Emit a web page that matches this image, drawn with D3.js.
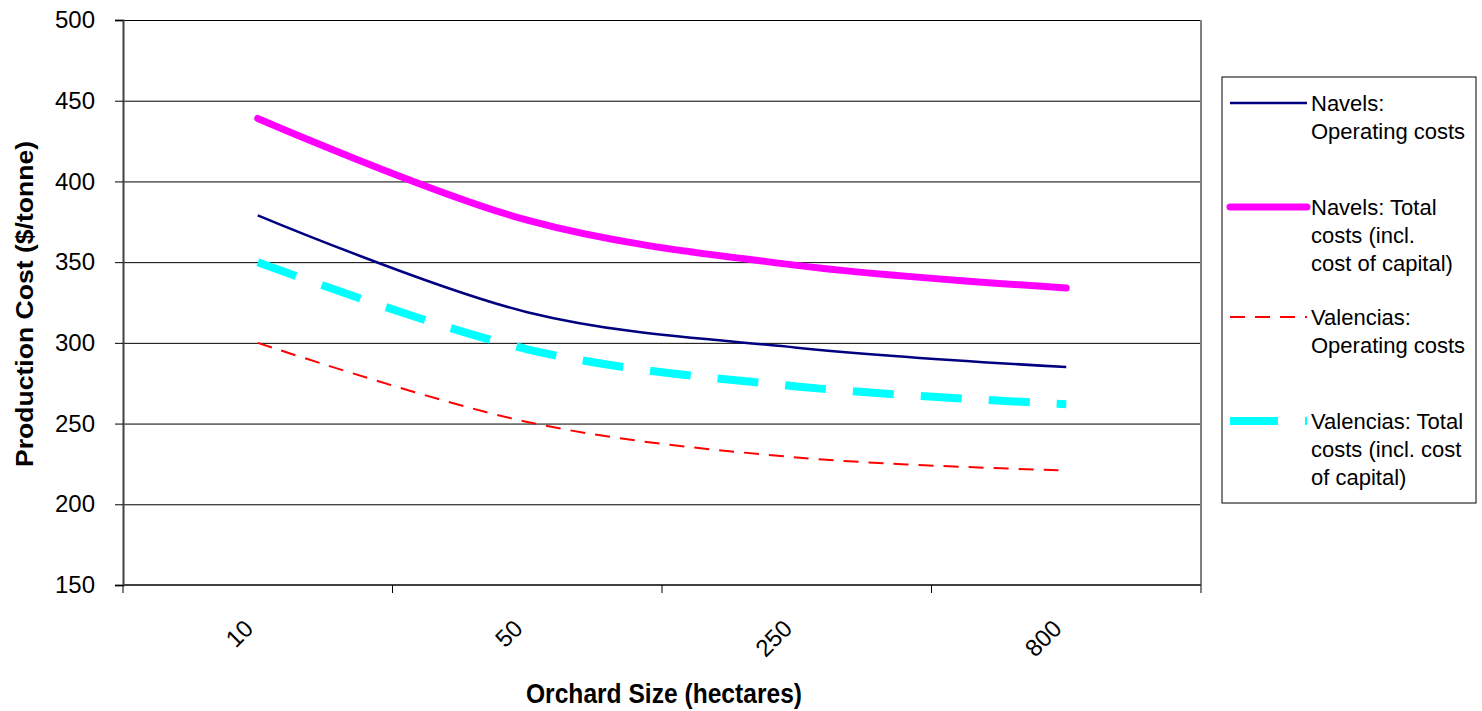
<!DOCTYPE html>
<html>
<head>
<meta charset="utf-8">
<script src="https://cdn.jsdelivr.net/npm/d3@7"></script>
<style>
  body { margin: 0; background: #fff; }
  svg text { font-family: "Liberation Sans", Arial, sans-serif; fill: #000; }
</style>
</head>
<body>
<div id="chart"></div>
<script>
// orchard sizes (hectares)
const sizes = ['10', '50', '250', '800'];

// production cost ($/tonne)
const navelsOperating = [379, 319, 297, 285];
const navelsTotal = [439, 376, 348, 334];
const valenciasOperating = [300, 251, 229, 221];
const valenciasTotal = [350, 296, 273, 262];

const yTicks = [150, 200, 250, 300, 350, 400, 450, 500];

const series = [
    { name: ['Navels:', 'Operating costs'], values: navelsOperating, color: '#000080', width: 2.5, dash: null, cap: 'butt' },
    { name: ['Navels: Total', 'costs (incl.', 'cost of capital)'], values: navelsTotal, color: '#ff00ff', width: 7, dash: null, cap: 'round' },
    { name: ['Valencias:', 'Operating costs'], values: valenciasOperating, color: '#ff0000', width: 2, dash: '15,10', cap: 'butt' },
    { name: ['Valencias: Total', 'costs (incl. cost', 'of capital)'], values: valenciasTotal, color: '#00ffff', width: 8, dash: '41,27', cap: 'butt' }
];

const svg = d3.select('#chart')
    .append('svg')
    .attr('width', 1482)
    .attr('height', 711);

const plot = { left: 123, right: 1201, top: 20, bottom: 585 };

const x = d3.scaleBand()
    .domain(sizes)
    .range([plot.left, plot.right])
    .paddingInner(0)
    .paddingOuter(0);

const y = d3.scaleLinear()
    .domain([150, 500])
    .range([plot.bottom, plot.top]);

// gridlines
svg.append('g')
    .attr('transform', 'translate(' + plot.left + ',0)')
    .call(d3.axisLeft(y).tickValues(yTicks).tickSize(-(plot.right - plot.left)).tickFormat(''))
    .call(g => g.select('.domain').remove())
    .selectAll('line')
    .attr('stroke', '#000')
    .attr('stroke-width', 1);

// plot border (right side)
svg.append('line')
    .attr('x1', plot.right).attr('x2', plot.right)
    .attr('y1', plot.top).attr('y2', plot.bottom)
    .attr('stroke', '#808080')
    .attr('stroke-width', 2);

// y axis
const yAxis = svg.append('g')
    .attr('transform', 'translate(' + plot.left + ',0)')
    .call(d3.axisLeft(y).tickValues(yTicks).tickSize(8).tickPadding(20));
yAxis.select('.domain').attr('stroke', '#404040').attr('stroke-width', 2);
yAxis.selectAll('.tick line').attr('stroke', '#000');
yAxis.selectAll('.tick text')
    .style('font-size', '24px');

// x axis
const xAxis = svg.append('g');
xAxis.append('line')
    .attr('x1', plot.left).attr('x2', plot.right)
    .attr('y1', plot.bottom).attr('y2', plot.bottom)
    .attr('stroke', '#404040')
    .attr('stroke-width', 2);
const bounds = sizes.map(d => x(d)).concat([x.range()[1]]);
xAxis.selectAll('.xtick')
    .data(bounds)
    .enter().append('line')
    .attr('class', 'xtick')
    .attr('x1', d => d).attr('x2', d => d)
    .attr('y1', plot.bottom).attr('y2', plot.bottom + 8)
    .attr('stroke', '#000');
xAxis.selectAll('.xlabel')
    .data(sizes)
    .enter().append('text')
    .attr('class', 'xlabel')
    .attr('transform', d => 'translate(' + (x(d) + x.bandwidth() / 2 - 9) + ',' + 624 + ') rotate(-45)')
    .attr('text-anchor', 'end')
    .attr('dy', '0.35em')
    .style('font-size', '24px')
    .text(d => d);

// axis titles
svg.append('text')
    .attr('transform', 'translate(33,' + 304 + ') rotate(-90)')
    .attr('text-anchor', 'middle')
    .attr('textLength', 326)
    .attr('lengthAdjust', 'spacingAndGlyphs')
    .style('font-size', '23px')
    .style('font-weight', 'bold')
    .text('Production Cost ($/tonne)');

svg.append('text')
    .attr('x', (plot.left + plot.right) / 2 + 2)
    .attr('y', 703)
    .attr('text-anchor', 'middle')
    .attr('textLength', 276)
    .attr('lengthAdjust', 'spacingAndGlyphs')
    .style('font-size', '27px')
    .style('font-weight', 'bold')
    .text('Orchard Size (hectares)');

// lines
const line = d3.line()
    .x((d, i) => x(sizes[i]) + x.bandwidth() / 2)
    .y(d => y(d))
    .curve(d3.curveCardinal.tension(0));

svg.selectAll('.series')
    .data(series)
    .enter().append('path')
    .attr('class', 'series')
    .attr('d', d => line(d.values))
    .attr('fill', 'none')
    .attr('stroke', d => d.color)
    .attr('stroke-width', d => d.width)
    .attr('stroke-dasharray', d => d.dash)
    .attr('stroke-linecap', d => d.cap);

// legend
const legend = svg.append('g');
legend.append('rect')
    .attr('x', 1222).attr('y', 77)
    .attr('width', 254).attr('height', 426)
    .attr('fill', '#fff')
    .attr('stroke', '#000')
    .attr('stroke-width', 1);

const legendY = [103, 207, 317, 421];
const item = legend.selectAll('.item')
    .data(series)
    .enter().append('g')
    .attr('class', 'item')
    .attr('transform', (d, i) => 'translate(0,' + legendY[i] + ')');

item.append('line')
    .attr('x1', 1230).attr('x2', 1307)
    .attr('y1', 0).attr('y2', 0)
    .attr('stroke', d => d.color)
    .attr('stroke-width', d => d.width)
    .attr('stroke-dasharray', (d, i) => i === 3 ? '48,27' : d.dash)
    .attr('stroke-linecap', d => d.cap);

item.append('text')
    .attr('x', 1311)
    .attr('y', 0)
    .style('font-size', '22px')
    .selectAll('tspan')
    .data(d => d.name)
    .enter().append('tspan')
    .attr('x', 1311)
    .attr('dy', (d, i) => i === 0 ? '0.35em' : '1.27em')
    .text(d => d);
</script>
</body>
</html>
